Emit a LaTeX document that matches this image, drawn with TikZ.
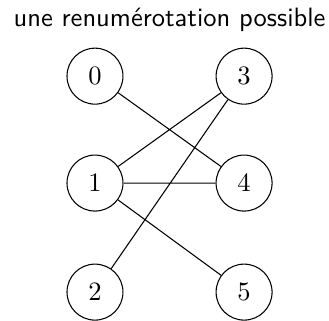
\documentclass[tikz,border=0pt]{standalone}
\usetikzlibrary{calc}
\begin{document}
\begin{tikzpicture}[
    sommet/.style={draw, circle, minimum size=21.1pt, inner sep=0pt},
    node distance=56.2pt
]
    \useasboundingbox (-35.8pt,28.7pt) rectangle (88.2pt,-92pt);
    \node[sommet] (0) {$0$};
    \node[sommet, right of=0] (3) {$3$};
    \node[sommet, below of=0, node distance=40.3pt] (1) {$1$};
    \node[sommet, below of=3, node distance=40.3pt] (4) {$4$};
    \node[sommet, below of=1, node distance=41.1pt] (2) {$2$};
    \node[sommet, below of=4, node distance=41.1pt] (5) {$5$};
    \node (titre) at ($(0)!0.5!(3) + (0,21.1pt)$) {\sffamily une renumérotation possible};
    \draw
    (0) -- (4)
    (3) -- (1)
    (3) -- (2)
    (1) -- (4)
    (1) -- (5)
;

\end{tikzpicture}
\end{document}
